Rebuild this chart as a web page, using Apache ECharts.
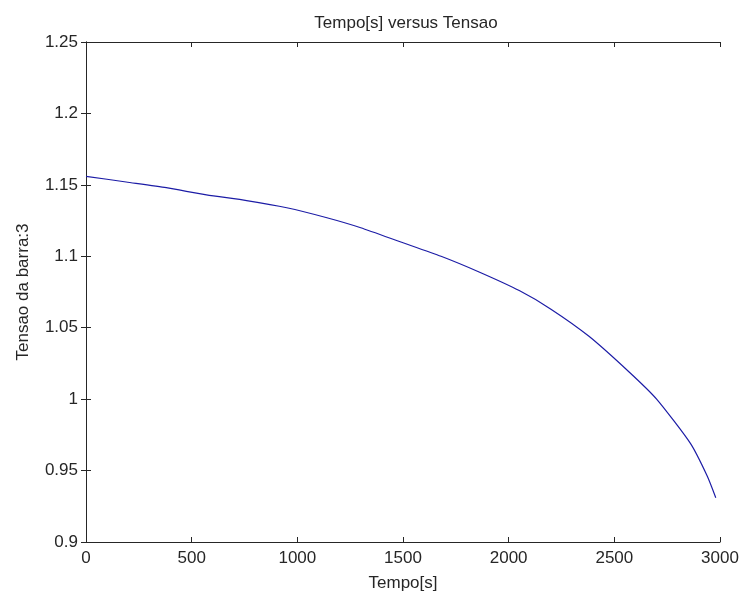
<!DOCTYPE html>
<html>
<head>
<meta charset="utf-8">
<script src="https://cdn.jsdelivr.net/npm/echarts@6/dist/echarts.min.js"></script>
<style>
  html, body { margin: 0; padding: 0; background: #ffffff; }
  #chart_container { width: 743px; height: 600px; }
</style>
</head>
<body>
<div id="chart_container"></div>
<script>
// values
const tempo = [0, 190, 380, 570, 760, 950, 1140, 1300, 1490, 1680, 1860, 2050, 2200, 2380, 2570, 2700, 2860, 2940, 2980];
const tensao = [1.156, 1.152, 1.148, 1.143, 1.139, 1.134, 1.127, 1.120, 1.110, 1.100, 1.089, 1.076, 1.063, 1.044, 1.019, 1.000, 0.969, 0.946, 0.931];

const titleText = "Tempo[s] versus Tensao";
const xName = "Tempo[s]";
const yName = "Tensao da barra:3";

function to_pairs(xs, ys){
    let out = [];
    for (let i = 0; i < xs.length; i++){
        out.push([xs[i], ys[i]]);
    }
    return out;
}

document.addEventListener("DOMContentLoaded", function () {
    let chart_container = document.getElementById('chart_container');
    var chart = echarts.init(chart_container);

    const font = "Liberation Sans, Arial, sans-serif";
    const ink = "#262626";
    const fs = 17;

    // shared axis look: box with inward ticks, no grid lines
    const boxAxis = {
        axisLine: { show: true, lineStyle: { color: ink, width: 1 } },
        axisTick: { show: true, inside: true, length: 5, lineStyle: { color: ink } },
        splitLine: { show: false }
    };

    var option = {
        backgroundColor: "#ffffff",
        animation: false,
        title: {
            text: titleText,
            left: 401, top: 10, textAlign: "center",
            textStyle: { fontFamily: font, fontSize: fs, fontWeight: "normal", color: ink }
        },
        grid: { left: 86, right: 23, top: 42, bottom: 58 },
        xAxis: [
            Object.assign({
                type: "value", min: 0, max: 3000, interval: 500, position: "bottom",
                name: xName, nameLocation: "middle", nameGap: 33,
                nameTextStyle: { fontFamily: font, fontSize: fs, color: ink },
                axisLabel: {
                    fontFamily: font, fontSize: fs, color: ink, margin: 8,
                    formatter: function (v) { return String(v); }
                }
            }, boxAxis),
            Object.assign({
                type: "value", min: 0, max: 3000, interval: 500, position: "top",
                axisLabel: { show: false }
            }, boxAxis)
        ],
        yAxis: [
            Object.assign({
                type: "value", min: 0.9, max: 1.25, interval: 0.05, position: "left",
                name: yName, nameLocation: "middle", nameGap: 54,
                nameTextStyle: { fontFamily: font, fontSize: fs, color: ink },
                axisLabel: {
                    fontFamily: font, fontSize: fs, color: ink, margin: 8,
                    formatter: function (v) { return parseFloat(v.toFixed(2)).toString(); }
                }
            }, boxAxis),
            Object.assign({
                type: "value", min: 0.9, max: 1.25, interval: 0.05, position: "right",
                axisLabel: { show: false }
            }, boxAxis)
        ],
        series: [
            {
                name: "Tensao",
                type: "line",
                xAxisIndex: 0,
                yAxisIndex: 0,
                data: to_pairs(tempo, tensao),
                smooth: 0.2,
                showSymbol: false,
                lineStyle: { color: "#1c1ca6", width: 1.2 }
            }
        ]
    };

    if (chart){
        chart.setOption(option);
    } else {
        console.error("Echart instance failed to init");
    }
});
</script>
</body>
</html>
